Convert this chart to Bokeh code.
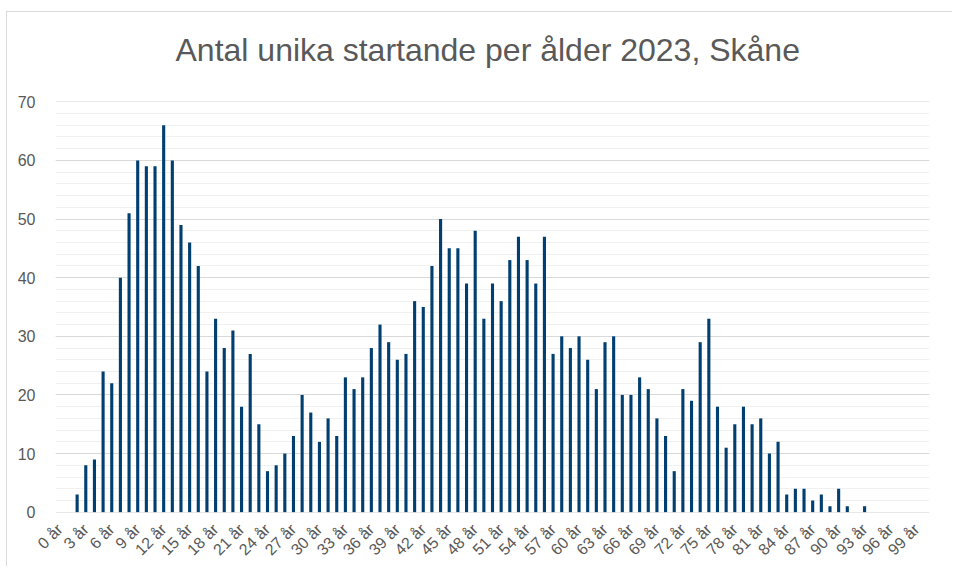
from bokeh.plotting import figure
from bokeh.models import Range1d, FixedTicker, SingleIntervalTicker, ColumnDataSource, Title
from bokeh.embed import file_html
from bokeh.resources import INLINE
import math

title_text = "Antal unika startande per ålder 2023, Skåne"

ages = list(range(101))
counts = [0, 0,
          3, 8, 9, 24, 22, 40, 51, 60, 59, 59,
          66, 60, 49, 46, 42, 24, 33, 28, 31, 18,
          27, 15, 7, 8, 10, 13, 20, 17, 12, 16,
          13, 23, 21, 23, 28, 32, 29, 26, 27, 36,
          35, 42, 50, 45, 45, 39, 48, 33, 39, 36,
          43, 47, 43, 39, 47, 27, 30, 28, 30, 26,
          21, 29, 30, 20, 20, 23, 21, 16, 13, 7,
          21, 19, 29, 33, 18, 11, 15, 18, 15, 16,
          10, 12, 3, 4, 4, 2, 3, 1, 4, 1,
          0, 1,
          0, 0, 0, 0, 0, 0, 0]

tick_ages = [0, 3, 6, 9, 12, 15, 18, 21, 24, 27, 30, 33, 36, 39, 42, 45, 48,
             51, 54, 57, 60, 63, 66, 69, 72, 75, 78, 81, 84, 87, 90, 93, 96, 99]
tick_labels = ["0 år", "3 år", "6 år", "9 år", "12 år", "15 år", "18 år", "21 år",
               "24 år", "27 år", "30 år", "33 år", "36 år", "39 år", "42 år", "45 år",
               "48 år", "51 år", "54 år", "57 år", "60 år", "63 år", "66 år", "69 år",
               "72 år", "75 år", "78 år", "81 år", "84 år", "87 år", "90 år", "93 år",
               "96 år", "99 år"]

FONT = "Liberation Sans"
TXT = "#595959"

source = ColumnDataSource(data=dict(age=ages, count=counts))

p = figure(width=946, height=555, output_backend="svg", toolbar_location=None,
           x_range=Range1d(-0.5, 100.5), y_range=Range1d(-0.05, 70.05),
           min_border_left=48, min_border_right=24, min_border_top=89,
           min_border_bottom=55)

spacer = Title(text=" ", text_font=FONT, text_font_size="10px", standoff=0)
p.add_layout(spacer, "above")

main_title = Title(text=title_text, text_font=FONT, text_font_size="32px",
                   text_font_style="normal", text_color=TXT, align="left",
                   offset=120, vertical_align="top", standoff=38)
p.add_layout(main_title, "above")

p.vbar(x="age", top="count", bottom=0, width=0.36, source=source,
       fill_color="#003f70", line_color=None)

p.outline_line_color = None
p.background_fill_color = "white"
p.border_fill_color = "white"

p.xgrid.grid_line_color = None
p.ygrid.grid_line_color = "#d9d9d9"
p.ygrid.minor_grid_line_color = "#f0f0f0"

p.yaxis.ticker = SingleIntervalTicker(interval=10, num_minor_ticks=5)
p.yaxis.axis_line_color = None
p.yaxis.major_tick_line_color = None
p.yaxis.minor_tick_line_color = None
p.yaxis.major_label_text_font = FONT
p.yaxis.major_label_text_font_size = "16px"
p.yaxis.major_label_text_color = TXT
p.yaxis.major_label_standoff = 14

p.xaxis.ticker = FixedTicker(ticks=tick_ages)
p.xaxis.major_label_overrides = {a: l for a, l in zip(tick_ages, tick_labels)}
p.xaxis.major_label_orientation = math.pi / 4
p.xaxis.axis_line_color = None
p.xaxis.major_tick_line_color = None
p.xaxis.minor_tick_line_color = None
p.xaxis.major_label_text_font = FONT
p.xaxis.major_label_text_font_size = "16px"
p.xaxis.major_label_text_color = TXT
p.xaxis.major_label_standoff = 8

p.styles = {"margin-left": "6px", "margin-top": "11px",
            "border-left": "1px solid #d9d9d9", "border-top": "1px solid #d9d9d9"}

open("out.html", "w").write(file_html(p, INLINE))
